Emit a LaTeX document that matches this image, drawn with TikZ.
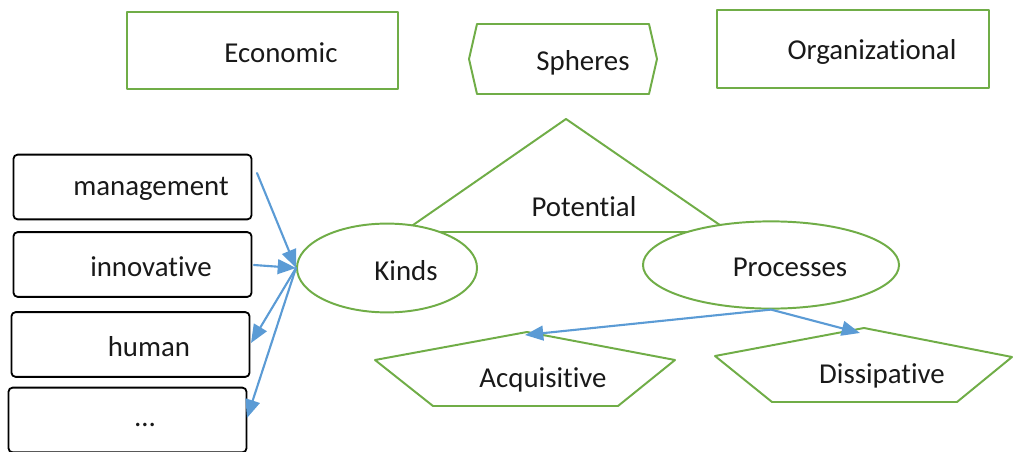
\documentclass[tikz,border=0pt]{standalone}
\usepackage{fontspec}
\setmainfont{Carlito}[Ligatures=NoCommon]
\usetikzlibrary{arrows.meta,shapes.geometric}
\definecolor{leafgreen}{HTML}{70AD47}
\definecolor{skyblue}{HTML}{5B9BD5}
\tikzset{
	greenline/.style={draw=leafgreen, line width=1.4pt},
	sortbox/.style={draw=black, line width=1.3pt, rounded corners=3pt, minimum width=5.95cm, minimum height=1.62cm, inner sep=0pt},
	oval/.style={greenline, ellipse, fill=white, inner sep=0pt},
	bluearrow/.style={draw=skyblue, line width=1.5pt, -{Triangle[length=13pt,width=10.5pt]}},
	lbl/.style={font=\fontsize{20.5}{24}\selectfont, text=black!90}
}
\begin{document}
\begin{tikzpicture}[x=0.025cm, y=-0.025cm, line join = round, line cap = round]
	\useasboundingbox (0,0) rectangle (1013,452);
	% spheres
	\draw[greenline] (127,12) rectangle (398,89);
	\node[lbl] (econ) at (281,53) {Economic};
	\draw[greenline] (469,59) -- (477,24) -- (649,24) -- (657,59) -- (649,94) -- (477,94) -- cycle;
	\node[lbl] (spheres) at (583,63) {Spheres};
	\draw[greenline] (717,10) rectangle (989,88);
	\node[lbl] (org) at (872,52) {Organizational};
	% potential
	\draw[greenline] (566,119) -- (403,232) -- (730,232) -- cycle;
	\node[lbl] (potential) at (584,207) {Potential};
	\node[oval, minimum width=4.5cm, minimum height=2.22cm] (kinds) at (387,268) {};
	\node[lbl] (kindslabel) at (406,271) {Kinds};
	\node[oval, minimum width=6.4cm, minimum height=2.18cm] (proc) at (771,265) {};
	\node[lbl] (proclabel) at (790,267) {Processes};
	% processes
	\draw[greenline] (527,332) -- (375,360) -- (433,406) -- (618,406) -- (675,360) -- cycle;
	\node[lbl] (acq) at (543,380) {Acquisitive};
	\draw[greenline] (864,328) -- (715,356) -- (772,402) -- (957,402) -- (1012,357) -- cycle;
	\node[lbl] (diss) at (882,376) {Dissipative};
	% kinds
	\node[sortbox] (mgmt) at (132.5,187) {};
	\node[lbl] (mgmtlabel) at (151,189) {management};
	\node[sortbox] (innov) at (132.5,264.5) {};
	\node[lbl] (innovlabel) at (151,267) {innovative};
	\node[sortbox] (human) at (130.5,344.5) {};
	\node[lbl] (humanlabel) at (149,347) {human};
	\node[sortbox] (more) at (127.5,420) {};
	\node[lbl] (morelabel) at (145,425) {\dots};
	\path (257,173) coordinate (mgmtout)
		(254,265) coordinate (innovout)
		(251,343) coordinate (humanin)
		(247,418) coordinate (morein)
		(525,335) coordinate (acqtop)
		(860,333) coordinate (disstop);
	\draw[bluearrow] (mgmtout) -- (kinds.west);
	\draw[bluearrow] (innovout) -- (kinds.west);
	\draw[bluearrow] (kinds.west) -- (humanin);
	\draw[bluearrow] (kinds.west) -- (morein);
	\draw[bluearrow] (proc.south) -- (acqtop);
	\draw[bluearrow] (proc.south) -- (disstop);
\end{tikzpicture}
\end{document}
